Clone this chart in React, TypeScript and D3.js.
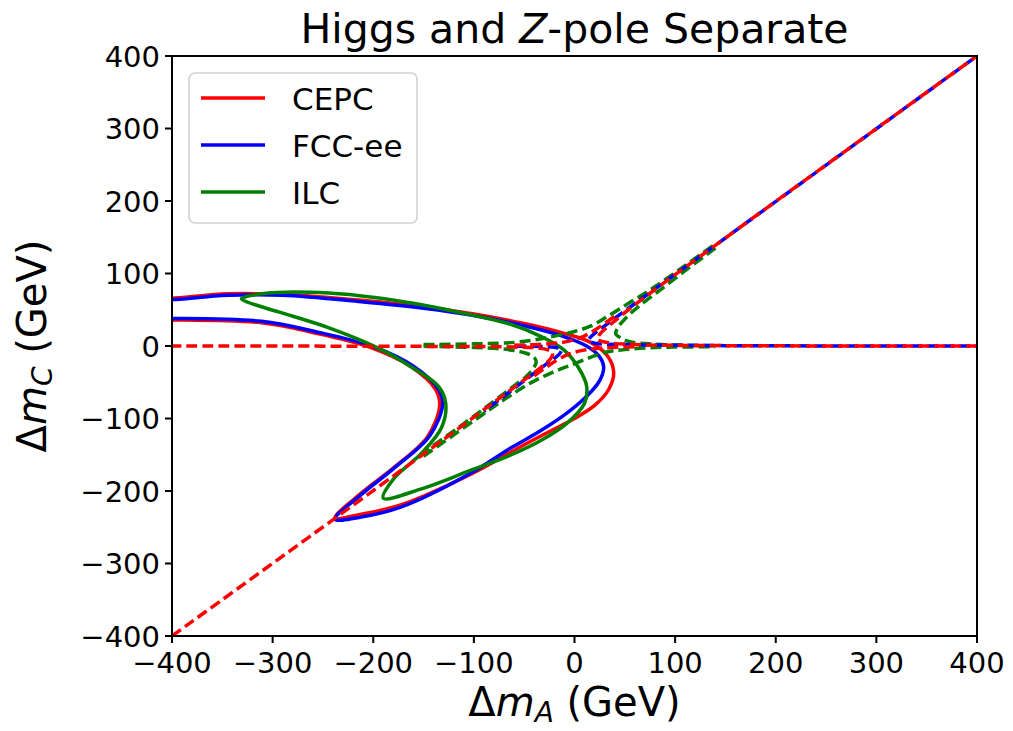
import React from "react";
import * as d3 from "d3";

// axis ticks
const tickValues = [-400, -300, -200, -100, 0, 100, 200, 300, 400];
const tickLabels = ["−400", "−300", "−200", "−100", "0", "100", "200", "300", "400"];

// legend entries
const seriesNames = ["CEPC", "FCC-ee", "ILC"];
const seriesColors = ["#ff0000", "#0000ff", "#008000"];

// solid contours (Δm_A, Δm_C)
const cepcSolid: [number, number][] = [
  [-410, 66], [-400, 66], [-344, 72], [-290, 71], [-212, 63], [-150, 54], [-100, 44],
  [-50, 31], [-12, 18], [16, 5], [33, -14], [39, -37], [34, -60], [20, -82],
  [0, -100], [-25, -118], [-55, -140], [-102, -176], [-172, -219], [-212, -232],
  [-238, -237], [-212, -203], [-179, -167], [-146, -125], [-134, -82],
  [-138, -60], [-162, -29], [-205, -1], [-261, 19], [-311, 32], [-400, 36], [-410, 36],
];

const fccSolid: [number, number][] = [
  [-410, 64], [-400, 64], [-344, 70], [-290, 70], [-212, 61], [-150, 52], [-100, 42],
  [-50, 28], [-15, 15], [12, 0], [25, -15], [29, -30], [24, -50], [10, -72],
  [-10, -95], [-35, -118], [-65, -142], [-105, -177], [-172, -222], [-212, -236],
  [-238, -239], [-212, -205], [-179, -168], [-144, -124], [-131, -80],
  [-135, -60], [-160, -28], [-200, -1], [-258, 20], [-311, 34], [-400, 38], [-410, 38],
];

const ilcSolid: [number, number][] = [
  [-331, 65], [-311, 72], [-244, 73], [-179, 63], [-120, 48], [-66, 31],
  [-33, 13], [-10, -6], [4, -30], [12, -55], [10, -79], [-7, -106],
  [-33, -130], [-66, -152], [-104, -172], [-152, -197], [-190, -210], [-179, -182],
  [-152, -148], [-132, -112], [-128, -79], [-135, -56], [-162, -29],
  [-195, -3], [-244, 25], [-294, 47], [-324, 60],
];

// dashed branches
const cepcDashed: [number, number][][] = [
  [[400, 0], [150, 0.5], [60, 2], [32, 5], [23, 9], [25, 16], [36, 30], [60, 57], [150, 149], [400, 400]],
  [[-400, -400], [-150, -149], [-60, -57], [-34, -30], [-23, -16], [-22, -9], [-30, -4], [-60, -1.5], [-150, -0.5], [-400, 0]],
  [[-60, 1], [-25, 3], [-8, 6], [5, 11], [18, 20], [40, 41]],
  [[-40, -41], [-18, -20], [-5, -11], [8, -6], [25, -3], [60, -1]],
];

const fccDashed: [number, number][][] = [
  [[400, 0], [150, 0.5], [50, 2], [20, 4], [14, 8], [18, 15], [35, 33], [150, 149], [400, 400]],
  [[-90, -90], [-30, -27], [-15, -11], [-13, -5], [-22, -1.5], [-60, -0.3]],
];

const ilcDashed: [number, number][][] = [
  [[140, 0.5], [100, 1.5], [74, 3], [55, 6], [46, 11], [41, 17], [44, 27], [52, 40], [65, 56], [83, 75], [110, 104], [140, 135]],
  [[-150, 2], [-100, 3], [-60, 5], [-33, 10], [-15, 15], [0, 20], [17, 28], [33, 41], [55, 60], [79, 81], [110, 111], [140, 141]],
  [[-150, -0.5], [-100, -2], [-66, -5], [-48, -10], [-40, -16], [-38, -22], [-41, -31], [-48, -42], [-62, -57], [-80, -76], [-110, -107], [-150, -147]],
  [[-150, -152], [-100, -103], [-70, -74], [-45, -52], [-23, -37], [-3, -26], [17, -15], [33, -8], [50, -5], [74, -2.5], [100, -1.5], [140, -1]],
];

const font = "'DejaVu Sans', sans-serif";

export default function App() {
  const left = 172, right = 977, top = 56, bottom = 636;

  const x = d3.scaleLinear().domain([-400, 400]).range([left, right]);
  const y = d3.scaleLinear().domain([-400, 400]).range([bottom, top]);

  const openLine = d3.line<[number, number]>()
    .x((d) => x(d[0]))
    .y((d) => y(d[1]))
    .curve(d3.curveCatmullRom.alpha(0.5));

  const closedLine = d3.line<[number, number]>()
    .x((d) => x(d[0]))
    .y((d) => y(d[1]))
    .curve(d3.curveCatmullRomClosed.alpha(0.5));

  const lw = 3.5;
  const dash = "11,5";

  return (
    <svg width={1013} height={731} style={{ position: "absolute", left: 0, top: 0, background: "#fff" }}>
      <defs>
        <clipPath id="plotClip">
          <rect x={left} y={top} width={right - left} height={bottom - top} />
        </clipPath>
      </defs>

      {/* title */}
      <text x={(left + right) / 2} y={43} textAnchor="middle" fontFamily={font} fontSize={41}>
        Higgs and <tspan fontStyle="italic">Z</tspan>-pole Separate
      </text>

      <g clipPath="url(#plotClip)">
        {/* solid contours */}
        <path d={openLine(cepcSolid) || ""} fill="none" stroke={seriesColors[0]} strokeWidth={lw} />
        <path d={openLine(fccSolid) || ""} fill="none" stroke={seriesColors[1]} strokeWidth={lw} />
        <path d={closedLine(ilcSolid) || ""} fill="none" stroke={seriesColors[2]} strokeWidth={lw} />

        {/* dashed contours */}
        {ilcDashed.map((b, i) => (
          <path key={"g" + i} d={openLine(b) || ""} fill="none" stroke={seriesColors[2]}
            strokeWidth={lw} strokeDasharray={dash} />
        ))}
        {fccDashed.map((b, i) => (
          <path key={"b" + i} d={openLine(b) || ""} fill="none" stroke={seriesColors[1]}
            strokeWidth={lw} strokeDasharray={dash} strokeDashoffset={9} />
        ))}
        {cepcDashed.map((b, i) => (
          <path key={"r" + i} d={openLine(b) || ""} fill="none" stroke={seriesColors[0]}
            strokeWidth={lw} strokeDasharray={dash} />
        ))}
      </g>

      {/* frame */}
      <rect x={left} y={top} width={right - left} height={bottom - top} fill="none" stroke="#000" strokeWidth={2} />

      {/* x ticks */}
      {tickValues.map((v, i) => (
        <g key={"xt" + i}>
          <line x1={x(v)} x2={x(v)} y1={bottom} y2={bottom + 7} stroke="#000" strokeWidth={2} />
          <text x={x(v)} y={673} textAnchor="middle" fontFamily={font} fontSize={29}>{tickLabels[i]}</text>
        </g>
      ))}

      {/* y ticks */}
      {tickValues.map((v, i) => (
        <g key={"yt" + i}>
          <line x1={left - 7} x2={left} y1={y(v)} y2={y(v)} stroke="#000" strokeWidth={2} />
          <text x={left - 12} y={y(v) + 10.5} textAnchor="end" fontFamily={font} fontSize={29}>{tickLabels[i]}</text>
        </g>
      ))}

      {/* axis labels */}
      <text x={(left + right) / 2} y={716} textAnchor="middle" fontFamily={font} fontSize={40}>
        Δ<tspan fontStyle="italic">m</tspan>
        <tspan fontStyle="italic" fontSize={28} dy={6}>A</tspan>
        <tspan dy={-6}> (GeV)</tspan>
      </text>
      <text transform={`translate(46,${(top + bottom) / 2}) rotate(-90)`} textAnchor="middle" fontFamily={font} fontSize={40}>
        Δ<tspan fontStyle="italic">m</tspan>
        <tspan fontStyle="italic" fontSize={28} dy={6}>C</tspan>
        <tspan dy={-6}> (GeV)</tspan>
      </text>

      {/* legend */}
      <rect x={189} y={73} width={228} height={150} rx={6} fill="#fff" fillOpacity={0.8} stroke="#d0d0d0" strokeWidth={1.5} />
      {seriesNames.map((name, i) => (
        <g key={name}>
          <line x1={201} x2={265} y1={98 + i * 47} y2={98 + i * 47} stroke={seriesColors[i]} strokeWidth={lw} />
          <text x={292} y={110 + i * 47} fontFamily={font} fontSize={31}>{name}</text>
        </g>
      ))}
    </svg>
  );
}
